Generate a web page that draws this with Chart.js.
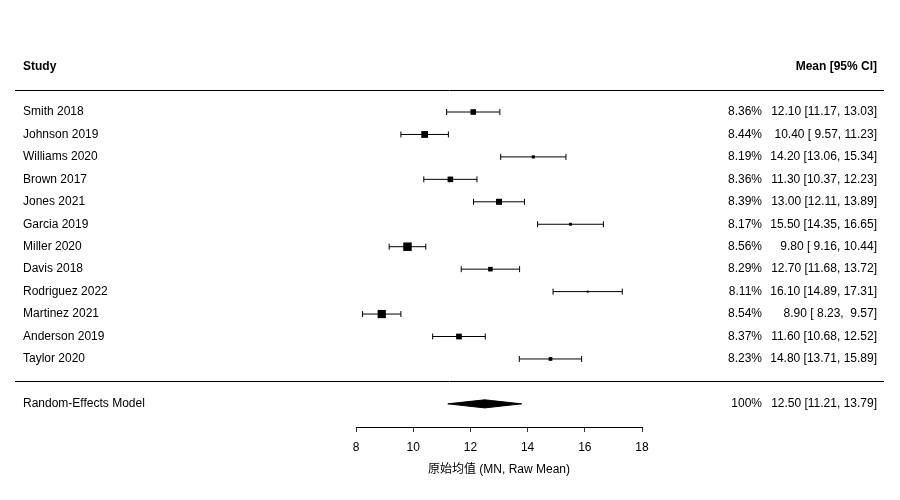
<!DOCTYPE html>
<html><head><meta charset="utf-8">
<script src="https://cdn.jsdelivr.net/npm/chart.js@4/dist/chart.umd.min.js"></script>
<style>html,body{margin:0;padding:0;background:#fff}#wrap{width:900px;height:500px}</style>
</head><body><div id="wrap"><canvas id="c"></canvas></div>
<script>
const studies = ["Smith 2018","Johnson 2019","Williams 2020","Brown 2017","Jones 2021","Garcia 2019","Miller 2020","Davis 2018","Rodriguez 2022","Martinez 2021","Anderson 2019","Taylor 2020"];
const means   = [12.10,10.40,14.20,11.30,13.00,15.50,9.80,12.70,16.10,8.90,11.60,14.80];
const lower   = [11.17,9.57,13.06,10.37,12.11,14.35,9.16,11.68,14.89,8.23,10.68,13.71];
const upper   = [13.03,11.23,15.34,12.23,13.89,16.65,10.44,13.72,17.31,9.57,12.52,15.89];
const weights = [8.36,8.44,8.19,8.36,8.39,8.17,8.56,8.29,8.11,8.54,8.37,8.23];
const estLabels = ["12.10 [11.17, 13.03]","10.40 [ 9.57, 11.23]","14.20 [13.06, 15.34]","11.30 [10.37, 12.23]","13.00 [12.11, 13.89]","15.50 [14.35, 16.65]"," 9.80 [ 9.16, 10.44]","12.70 [11.68, 13.72]","16.10 [14.89, 17.31]"," 8.90 [ 8.23,  9.57]","11.60 [10.68, 12.52]","14.80 [13.71, 15.89]"];
const pooled = {label:"Random-Effects Model", mean:12.50, lower:11.21, upper:13.79, weight:"100%", text:"12.50 [11.21, 13.79]"};
const xTicks = [8,10,12,14,16,18];
const xTitle = "原始均值 (MN, Raw Mean)";
const headers = ["Study","Mean [95% CI]"];

const FONT = "'Liberation Sans', Arial, 'Noto Sans CJK SC', sans-serif";
const rows = studies.map((s,i)=>i+1);
const pooledRow = studies.length + 2;
const wMin = Math.min(...weights), wMax = Math.max(...weights);
const sideOf = w => 2 + (w - wMin) / (wMax - wMin) * 6.5;

const datasets = [];
studies.forEach((s,i)=>{
  datasets.push({
    data:[{x:lower[i],y:rows[i]},{x:upper[i],y:rows[i]}],
    showLine:true, borderColor:'#000', borderWidth:1,
    pointStyle:'line', rotation:90, pointRadius:3, pointBorderColor:'#000', pointBorderWidth:1
  });
});
datasets.push({
  data: means.map((m,i)=>({x:m,y:rows[i]})),
  showLine:false, pointStyle:'rect',
  pointRadius: weights.map(w=>sideOf(w)/Math.SQRT2),
  backgroundColor:'#000', borderColor:'#000', pointBorderWidth:0
});
const dh = 0.18;
datasets.push({
  data:[{x:pooled.lower,y:pooledRow},{x:pooled.mean,y:pooledRow-dh},{x:pooled.upper,y:pooledRow}],
  showLine:true, borderColor:'#000', borderWidth:1, pointRadius:0, fill:false, tension:0
});
datasets.push({
  data:[{x:pooled.lower,y:pooledRow},{x:pooled.mean,y:pooledRow+dh},{x:pooled.upper,y:pooledRow}],
  showLine:true, borderColor:'#000', borderWidth:1, pointRadius:0, fill:'-1', backgroundColor:'#000', tension:0
});

const textPlugin = {
  id:'forestText',
  afterDraw(chart){
    const ctx = chart.ctx, ys = chart.scales.y;
    ctx.save();
    ctx.fillStyle = '#000';
    ctx.textBaseline = 'middle';
    ctx.font = "bold 12px " + FONT;
    ctx.textAlign = 'left';
    ctx.fillText(headers[0], 23, ys.getPixelForValue(-1));
    ctx.textAlign = 'right';
    ctx.fillText(headers[1], 877, ys.getPixelForValue(-1));
    ctx.strokeStyle = '#000'; ctx.lineWidth = 1;
    [0, studies.length + 1].forEach(r=>{
      const y = Math.round(ys.getPixelForValue(r)) + 0.5;
      ctx.beginPath(); ctx.moveTo(15,y); ctx.lineTo(884,y); ctx.stroke();
    });
    ctx.font = "12px " + FONT;
    studies.forEach((s,i)=>{
      const y = ys.getPixelForValue(rows[i]);
      ctx.textAlign='left'; ctx.fillText(s, 23, y);
      ctx.textAlign='right';
      ctx.fillText(weights[i].toFixed(2)+'%', 762, y);
      ctx.fillText(estLabels[i], 877, y);
    });
    const py = ys.getPixelForValue(pooledRow);
    ctx.textAlign='left'; ctx.fillText(pooled.label, 23, py);
    ctx.textAlign='right';
    ctx.fillText(pooled.weight, 762, py);
    ctx.fillText(pooled.text, 877, py);
    ctx.restore();
  }
};

new Chart(document.getElementById('c'), {
  type:'scatter',
  data:{datasets},
  options:{
    responsive:true, maintainAspectRatio:false, animation:false,
    layout:{autoPadding:false, padding:{left:356,right:258,top:0,bottom:0}},
    plugins:{legend:{display:false},tooltip:{enabled:false}},
    scales:{
      x:{
        type:'linear', min:8, max:18, position:'bottom',
        afterBuildTicks: s => { s.ticks = xTicks.map(v=>({value:v})); },
        afterFit: s => { s.height = 73; },
        ticks:{color:'#000', padding:8, font:{family:FONT,size:12}, maxRotation:0},
        grid:{display:true, drawOnChartArea:false, drawTicks:true, tickLength:5, color:'#333', lineWidth:1},
        border:{display:true, color:'#000', width:1},
        title:{display:true, text:xTitle, color:'#000', font:{family:FONT,size:12}, padding:{top:0,bottom:23}}
      },
      y:{type:'linear', display:false, reverse:true, min:-3.989, max:15.031,
         ticks:{display:false}, grid:{display:false}, border:{display:false}}
    }
  },
  plugins:[textPlugin]
});
</script></body></html>
